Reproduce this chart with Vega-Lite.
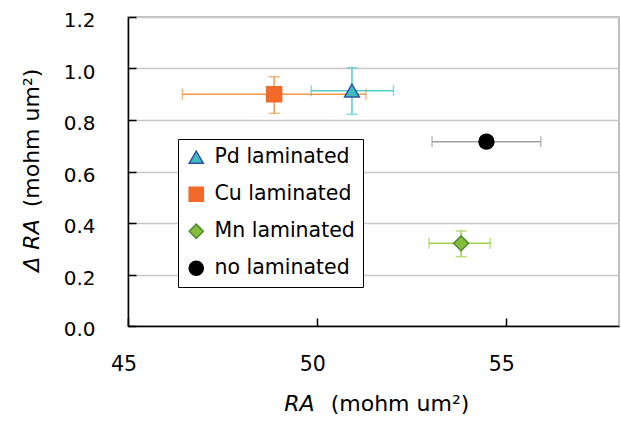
{
  "$schema": "https://vega.github.io/schema/vega-lite/v6.json",
  "autosize": "none",
  "padding": {"left": 128, "top": 17, "right": 2, "bottom": 95},
  "width": 491,
  "height": 309,
  "background": "white",
  "config": {
    "font": "DejaVu Sans",
    "view": {"stroke": "#aaaaaa", "strokeWidth": 1.5},
    "axis": {
      "labelFont": "DejaVu Sans",
      "titleFont": "DejaVu Sans",
      "labelFontSize": 20,
      "titleFontSize": 22,
      "labelColor": "black",
      "titleColor": "black",
      "titleFontWeight": "normal",
      "domainColor": "black",
      "domainWidth": 1.5,
      "tickColor": "black",
      "tickWidth": 1.5,
      "tickSize": -8,
      "labelFlush": false
    },
    "legend": {
      "labelFont": "DejaVu Sans",
      "labelFontSize": 20.5,
      "labelColor": "black"
    }
  },
  "data": {
    "values": [
      {"name": "Pd laminated", "x": 50.93, "y": 0.914, "xlo": 49.85, "xhi": 52.03, "ylo": 0.822, "yhi": 1.003},
      {"name": "Cu laminated", "x": 48.87, "y": 0.90, "xlo": 46.44, "xhi": 51.30, "ylo": 0.826, "yhi": 0.968},
      {"name": "Mn laminated", "x": 53.82, "y": 0.321, "xlo": 52.97, "xhi": 54.59, "ylo": 0.269, "yhi": 0.369},
      {"name": "no laminated", "x": 54.49, "y": 0.716, "xlo": 53.05, "xhi": 55.93, "ylo": null, "yhi": null}
    ]
  },
  "resolve": {"axis": {"x": "independent", "y": "independent"}},
  "layer": [
    {
      "encoding": {
        "x": {
          "type": "quantitative",
          "scale": {"domain": [45, 58], "nice": false, "zero": false},
          "axis": {
            "values": [45, 50, 55],
            "grid": false,
            "labelFontSize": 20.5,
            "labelPadding": 36,
            "labelOffset": -4.5,
            "title": "(mohm um²)",
            "titleX": 271.5,
            "titleY": 84,
            "titleBaseline": "alphabetic",
            "titleAlign": "center"
          }
        },
        "y": {
          "type": "quantitative",
          "scale": {"domain": [0, 1.2], "nice": false},
          "axis": {
            "values": [0, 0.2, 0.4, 0.6, 0.8, 1.0, 1.2],
            "format": ".1f",
            "grid": true,
            "gridColor": "#c8c8c8",
            "gridWidth": 1.5,
            "labelPadding": 41,
            "labelOffset": 3.5,
            "title": "(mohm um²)",
            "titleX": -90,
            "titleY": 120.5,
            "titleAngle": -90,
            "titleBaseline": "alphabetic",
            "titleAlign": "center"
          }
        }
      },
      "layer": [
        {
          "mark": {"type": "rule", "strokeWidth": 1.5},
          "encoding": {
            "x": {"field": "xlo"},
            "x2": {"field": "xhi"},
            "y": {"field": "y"},
            "color": {"field": "name", "type": "nominal", "legend": null,
              "scale": {"domain": ["Cu laminated", "Mn laminated", "Pd laminated", "no laminated"], "range": ["#f39a4a", "#9fd048", "#55cccc", "#a0a0a0"]}}
          }
        },
        {
          "transform": [{"filter": "datum.ylo != null"}],
          "mark": {"type": "rule", "strokeWidth": 1.5},
          "encoding": {
            "x": {"field": "x"},
            "y": {"field": "ylo"},
            "y2": {"field": "yhi"},
            "color": {"field": "name", "type": "nominal", "legend": null}
          }
        },
        {
          "mark": {"type": "tick", "orient": "vertical", "size": 11, "thickness": 1.5},
          "encoding": {
            "x": {"field": "xlo"},
            "y": {"field": "y"},
            "color": {"field": "name", "type": "nominal", "legend": null}
          }
        },
        {
          "mark": {"type": "tick", "orient": "vertical", "size": 11, "thickness": 1.5},
          "encoding": {
            "x": {"field": "xhi"},
            "y": {"field": "y"},
            "color": {"field": "name", "type": "nominal", "legend": null}
          }
        },
        {
          "transform": [{"filter": "datum.ylo != null"}],
          "mark": {"type": "tick", "orient": "horizontal", "size": 11, "thickness": 1.5},
          "encoding": {
            "x": {"field": "x"},
            "y": {"field": "ylo"},
            "color": {"field": "name", "type": "nominal", "legend": null}
          }
        },
        {
          "transform": [{"filter": "datum.ylo != null"}],
          "mark": {"type": "tick", "orient": "horizontal", "size": 11, "thickness": 1.5},
          "encoding": {
            "x": {"field": "x"},
            "y": {"field": "yhi"},
            "color": {"field": "name", "type": "nominal", "legend": null}
          }
        },
        {
          "mark": {"type": "point", "filled": false, "size": 220, "strokeWidth": 1.5, "opacity": 1},
          "encoding": {
            "x": {"field": "x"},
            "y": {"field": "y"},
            "shape": {"field": "name", "type": "nominal",
              "scale": {"domain": ["Pd laminated", "Cu laminated", "Mn laminated", "no laminated"], "range": ["triangle-up", "square", "diamond", "circle"]},
              "legend": {"title": null, "orient": "none", "legendX": 50, "legendY": 122, "strokeColor": "black", "fillColor": "white", "padding": 8, "rowPadding": 16, "symbolSize": 200, "symbolStrokeWidth": 1.5, "labelOffset": 8}},
            "fill": {"field": "name", "type": "nominal",
              "scale": {"domain": ["Pd laminated", "Cu laminated", "Mn laminated", "no laminated"], "range": ["#3dbdbd", "#f26a2a", "#84bc3a", "#000000"]},
              "legend": {"title": null, "orient": "none", "legendX": 50, "legendY": 122, "strokeColor": "black", "fillColor": "white", "padding": 8, "rowPadding": 16, "symbolSize": 200, "symbolStrokeWidth": 1.5, "labelOffset": 8}},
            "stroke": {"field": "name", "type": "nominal",
              "scale": {"domain": ["Pd laminated", "Cu laminated", "Mn laminated", "no laminated"], "range": ["#2e55a5", "#f26a2a", "#4e8a2e", "#000000"]},
              "legend": {"title": null, "orient": "none", "legendX": 50, "legendY": 122, "strokeColor": "black", "fillColor": "white", "padding": 8, "rowPadding": 16, "symbolSize": 200, "symbolStrokeWidth": 1.5, "labelOffset": 8}}
          }
        }
      ]
    },
    {
      "mark": {"type": "point", "opacity": 0},
      "encoding": {
        "x": {
          "field": "x",
          "type": "quantitative",
          "scale": {"domain": [45, 58], "nice": false, "zero": false},
          "axis": {
            "orient": "top",
            "labels": false,
            "ticks": false,
            "domain": false,
            "grid": false,
            "title": "RA",
            "titleFontStyle": "italic",
            "titleX": 171,
            "titleY": 393,
            "titleAngle": 0,
            "titleBaseline": "alphabetic",
            "titleAlign": "center"
          }
        },
        "y": {
          "field": "y",
          "type": "quantitative",
          "scale": {"domain": [0, 1.2], "nice": false},
          "axis": {
            "orient": "right",
            "labels": false,
            "ticks": false,
            "domain": false,
            "grid": false,
            "title": "Δ RA",
            "titleFontStyle": "italic",
            "titleX": -581,
            "titleY": 228,
            "titleAngle": -90,
            "titleBaseline": "alphabetic",
            "titleAlign": "center"
          }
        }
      }
    }
  ]
}
